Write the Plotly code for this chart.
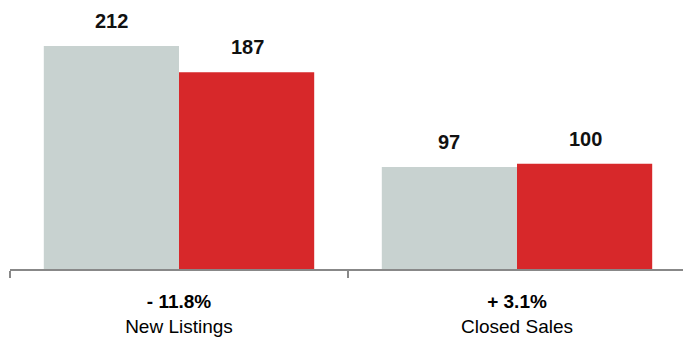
import plotly.graph_objects as go

categories = ["New Listings", "Closed Sales"]
prior_year = [212, 97]
current_year = [187, 100]
pct_change = ["- 11.8%", "+ 3.1%"]

gray = "#C8D2D0"
red = "#D7282A"

ticktext = [f"<b>{p}</b><br>{c}" for p, c in zip(pct_change, categories)]

fig = go.Figure()
fig.add_trace(go.Bar(x=categories, y=prior_year, marker_color=gray, marker_line_width=0, name="Prior"))
fig.add_trace(go.Bar(x=categories, y=current_year, marker_color=red, marker_line_width=0, name="Current"))

bw = 135 / 2 + 0.5
for i, c in enumerate(categories):
    for v, dx in ((prior_year[i], -bw), (current_year[i], bw)):
        fig.add_annotation(x=c, y=v, xshift=dx, yshift=12, yanchor="bottom", showarrow=False,
                           text=f"<b>{v}</b>", font=dict(size=20, color="#111", family="Liberation Sans, Arial"))

fig.update_layout(
    width=683, height=337,
    margin=dict(l=10, r=0, t=0, b=68),
    barmode="group", bargap=0.2, bargroupgap=0,
    plot_bgcolor="white", paper_bgcolor="white",
    showlegend=False,
    font=dict(family="Liberation Sans, Arial", color="#000"),
)
fig.update_xaxes(
    range=[-0.5, -0.5 + 673 / 338], tickvals=categories, ticktext=ticktext,
    showline=True, linecolor="#888", linewidth=2,
    ticks="outside", tickson="boundaries", ticklen=7, tickcolor="#888", tickwidth=2,
    ticklabelstandoff=14,
    tickfont=dict(size=19, color="#000"), showgrid=False,
)
fig.update_yaxes(range=[0, 269 / 1.052], visible=False, showgrid=False)

fig.write_html("out.html")
